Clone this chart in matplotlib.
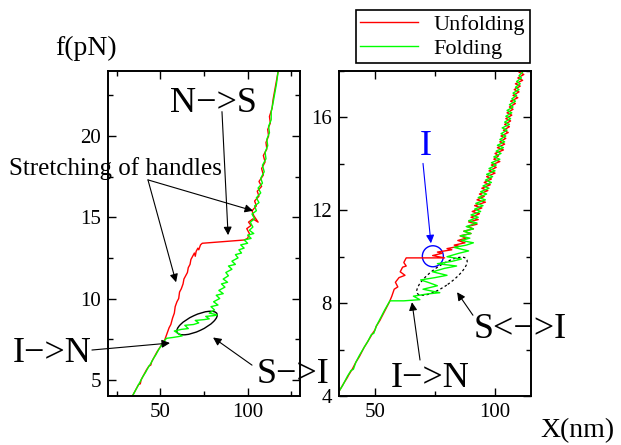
import matplotlib
matplotlib.use("Agg")
import matplotlib.pyplot as plt
from matplotlib.patches import Ellipse
from matplotlib.transforms import ScaledTranslation
from matplotlib.ticker import MultipleLocator

plt.rcParams['font.family'] = ['Liberation Serif', 'DejaVu Serif']

# ---- left panel traces (x in nm, f in pN) ----
unfold_left_x = [34.0, 36, 37.5, 38.5, 39, 40.5, 42, 43.5, 44.5, 45, 46.5, 48, 49.5, 51, 52.5,
                 54, 55, 56, 57, 58, 58.5, 59.5, 60.5, 61, 62, 63, 63.5, 64.5, 65.5,
                 66, 67, 67.5, 68.5, 69.5, 70, 70.5, 71.5, 72, 73, 74,
                 80, 86, 92, 98,
                 100, 101, 99.5, 102, 100.5, 103, 106, 103.5, 102.5, 105, 104, 106.5,
                 105.5, 108, 106.5, 109, 108, 110, 109, 111, 110.5, 112, 111.5, 113,
                 112.5, 114, 114.5, 115.5, 116.5, 117.5]
unfold_left_f = [4.0, 4.4, 4.7, 4.75, 5.0, 5.3, 5.6, 5.85, 5.9, 6.1, 6.4, 6.7, 6.95, 7.2, 7.45,
                 7.9, 8.2, 8.4, 8.8, 9.1, 9.5, 9.8, 10.0, 10.4, 10.6, 10.9, 11.2, 11.4, 11.6,
                 11.9, 12.1, 12.4, 12.6, 12.8, 12.6, 12.9, 13.1, 13.0, 13.3, 13.4,
                 13.45, 13.5, 13.55, 13.6,
                 13.7, 14.0, 14.3, 14.5, 14.7, 14.9, 14.7, 15.1, 15.4, 15.7, 16.0, 16.3,
                 16.6, 16.9, 17.2, 17.6, 18.0, 18.4, 18.8, 19.2, 19.6, 20.0, 20.4, 20.8,
                 21.2, 21.7, 22.2, 22.8, 23.4, 24.0]

fold_left_x = [34.0, 35.5, 37, 38.5, 40, 41.5, 43, 44.5, 46, 47.5, 49, 50.5, 52, 53.5,
               57, 60, 62.5,
               58, 62, 66, 64, 69, 72, 70, 75, 78, 76, 81, 82.5, 78,
               81, 79, 83, 80.5, 84, 82, 86, 83.5, 87, 85, 88.5, 86, 89, 87.5, 91, 89,
               93, 91, 94.5, 93, 96.5, 95, 98, 96, 100, 98, 102, 100, 103.5, 101, 103,
               101.5, 104, 102.5, 105, 104, 106.5, 105, 107.5, 106, 108.5, 107.5, 109.5,
               108.5, 110.5, 110, 111.5, 111, 112.5, 112, 113.5, 113.5, 114.5, 115.5,
               116.5, 117.5]
fold_left_f = [4.0, 4.3, 4.6, 4.9, 5.2, 5.45, 5.75, 6.0, 6.3, 6.55, 6.85, 7.1, 7.35, 7.55,
               7.6, 7.65, 7.7,
               8.0, 8.1, 8.15, 8.35, 8.4, 8.5, 8.65, 8.7, 8.75, 8.9, 8.95, 9.0, 9.1,
               9.3, 9.5, 9.6, 9.8, 10.0, 10.2, 10.3, 10.5, 10.7, 10.9, 11.0, 11.2, 11.4, 11.6, 11.8, 12.0,
               12.1, 12.3, 12.5, 12.7, 12.8, 13.0, 13.1, 13.3, 13.4, 13.6, 13.7, 13.9, 14.0, 14.2, 14.4,
               14.7, 14.9, 15.2, 15.4, 15.7, 15.9, 16.2, 16.5, 16.8, 17.1, 17.4, 17.8,
               18.2, 18.6, 19.0, 19.4, 19.8, 20.2, 20.6, 21.0, 21.5, 22.0, 22.6,
               23.2, 24.0]

# ---- right panel traces ----
unfold_right_x = [35, 37, 38.5, 39, 40.5, 42, 43.5, 44, 45.5, 47, 49, 50, 50.5, 52, 54, 56,
                  57, 58, 59.5, 58.5, 60, 62.5, 60.5, 61.5, 63, 62, 63,
                  70, 79,
                  74, 78, 76, 82, 80, 85, 83, 87.5, 84.5, 88, 85.5, 90, 87, 91, 88.5,
                  92.5, 89, 93, 90, 93.5, 90.5, 94.5, 91.5, 96, 92.5, 95.5, 93.5, 97,
                  94.5, 98, 95.5, 98.5, 96.5, 100, 97.5, 100.5, 98.5, 102, 99.5, 101.5,
                  100, 103.5, 101, 104, 102, 104.5, 102.5, 105.5, 103.5, 106, 104, 106.5,
                  104.5, 107, 105, 107.5, 106, 108.5, 106.5, 109.5, 107.5, 110, 108,
                  110.5, 108.5, 111.5, 109.5, 112, 110, 111.5]
unfold_right_f = [4.2, 4.55, 4.8, 4.9, 5.15, 5.45, 5.7, 5.8, 6.1, 6.35, 6.7, 6.85, 7.0, 7.25, 7.65, 8.05,
                  8.3, 8.6, 8.7, 8.9, 9.1, 9.2, 9.35, 9.55, 9.6, 9.75, 9.95,
                  9.95, 9.95,
                  10.05, 10.15, 10.2, 10.3, 10.35, 10.45, 10.5, 10.6, 10.7, 10.8, 10.9,
                  11.0, 11.1, 11.2, 11.3, 11.4, 11.5, 11.6, 11.7, 11.85, 11.95, 12.1,
                  12.2, 12.35, 12.45, 12.6, 12.7, 12.85, 12.95, 13.1, 13.2, 13.35, 13.45,
                  13.6, 13.7, 13.85, 13.95, 14.1, 14.2, 14.35, 14.45, 14.6, 14.7, 14.85,
                  14.95, 15.1, 15.2, 15.35, 15.45, 15.6, 15.7, 15.85, 15.95, 16.1, 16.2,
                  16.35, 16.45, 16.6, 16.7, 16.85, 16.95, 17.1, 17.2, 17.35, 17.45, 17.6,
                  17.7, 17.85, 17.95, 18.1]

fold_right_x = [35, 36.5, 38.5, 40, 41, 42, 43.5, 45.5, 47, 48.5, 49.5, 50.5, 52, 54, 56.2,
                62, 68.7,
                66, 72, 77, 70, 76, 72, 69, 75, 80, 74, 79, 84, 76, 82, 86, 80, 85, 89,
                83, 88, 91,
                86, 89.5, 85.5, 90, 87, 91, 88, 92.5, 89, 93, 90, 94, 91.5, 95, 92, 96,
                93, 96.5, 94, 97.5, 95, 98.5, 96, 99, 96.5, 100, 97.5, 100.5, 98.5,
                102, 99.5, 102.5, 100.5, 103.5, 101, 104, 102, 104.5, 102.5, 105, 103,
                106, 104, 106.5, 104.5, 107, 105, 107.5, 106, 108.5, 107, 109, 107.5,
                110, 108.5, 110.5, 109, 111, 110, 111.5, 110.5]
fold_right_f = [4.2, 4.45, 4.85, 5.1, 5.15, 5.45, 5.75, 6.1, 6.35, 6.65, 6.7, 7.0, 7.3, 7.7, 8.1,
                8.1, 8.15,
                8.3, 8.4, 8.45, 8.6, 8.75, 8.9, 9.0, 9.1, 9.2, 9.35, 9.5, 9.6, 9.7, 9.8, 9.9, 10.0, 10.15, 10.25,
                10.4, 10.5, 10.6,
                10.7, 10.8, 10.9, 11.0, 11.1, 11.2, 11.3, 11.45, 11.55, 11.7, 11.8, 11.95,
                12.05, 12.2, 12.3, 12.45, 12.55, 12.7, 12.8, 12.95, 13.05, 13.2, 13.3,
                13.45, 13.55, 13.7, 13.8, 13.95, 14.05, 14.2, 14.3, 14.45, 14.55, 14.7,
                14.8, 14.95, 15.05, 15.2, 15.3, 15.45, 15.55, 15.7, 15.8, 15.95, 16.05,
                16.2, 16.3, 16.45, 16.55, 16.7, 16.8, 16.95, 17.05, 17.2, 17.3, 17.45,
                17.55, 17.7, 17.8, 17.95, 18.1]

RED = '#ff0000'
GREEN = '#00ff00'
BIG = 26

fig = plt.figure(figsize=(6.21, 4.45), dpi=100)
axL = fig.add_axes([0.1739, 0.1101, 0.3092, 0.7303])
axR = fig.add_axes([0.5459, 0.1101, 0.3092, 0.7303])

for ax in (axL, axR):
    ax.tick_params(which='both', direction='in', top=True, right=True, labelsize=15, pad=5)
    ax.tick_params(which='major', length=6, width=1)
    ax.tick_params(which='minor', length=3.5, width=1)
    for s in ax.spines.values():
        s.set_linewidth(1.4)

axL.plot(unfold_left_x, unfold_left_f, color=RED, lw=1)
axL.plot(fold_left_x, fold_left_f, color=GREEN, lw=1)
axL.set_xlim(20, 130)
axL.set_ylim(4, 24)
axL.xaxis.set_major_locator(MultipleLocator(50))
axL.xaxis.set_minor_locator(MultipleLocator(25))
axL.yaxis.set_major_locator(MultipleLocator(5))
axL.yaxis.set_minor_locator(MultipleLocator(2.5))

l1, = axR.plot(unfold_right_x, unfold_right_f, color=RED, lw=1, label='Unfolding')
l2, = axR.plot(fold_right_x, fold_right_f, color=GREEN, lw=1, label='Folding')
axR.set_xlim(35, 115)
axR.set_ylim(4, 18)
axR.xaxis.set_major_locator(MultipleLocator(50))
axR.xaxis.set_minor_locator(MultipleLocator(25))
axR.yaxis.set_major_locator(MultipleLocator(4))
axR.yaxis.set_minor_locator(MultipleLocator(2))

leg = fig.legend(handles=[l1, l2], loc='upper left', bbox_to_anchor=(356 / 621, 1 - 10 / 445),
                 fontsize=16, frameon=True, fancybox=False, edgecolor='black',
                 framealpha=1, handlelength=2.6, handletextpad=0.7, borderpad=0.2,
                 labelspacing=0.15, borderaxespad=0)
leg.get_frame().set_linewidth(1.2)

fig.text(55 / 621, 1 - 55 / 445, 'f(pN)', fontsize=20, ha='left', va='baseline')
fig.text(540 / 621, 1 - 437 / 445, 'X(nm)', fontsize=20, ha='left', va='baseline')

arrow = dict(arrowstyle='-|>', color='black', lw=0.8, mutation_scale=12,
             shrinkA=0, shrinkB=0)

# left panel annotations
axL.text(80.2, 21.48, 'N−>S', fontsize=BIG, ha='center', va='baseline')
axL.annotate('', xy=(88.8, 13.9), xytext=(85.3, 21.5), arrowprops=arrow)
axL.text(-36.7, 17.6, 'Stretching of handles', fontsize=18, ha='left', va='baseline',
         clip_on=False)
axL.annotate('', xy=(59.0, 11.0), xytext=(42.9, 17.3), arrowprops=arrow)
axL.annotate('', xy=(103.1, 15.4), xytext=(42.9, 17.3), arrowprops=arrow)
axL.text(-12.1, 6.09, 'I−>N', fontsize=BIG, ha='center', va='baseline', clip_on=False)
axL.annotate('', xy=(55.5, 7.26), xytext=(10.8, 6.83), arrowprops=arrow,
             annotation_clip=False)
axL.text(126.0, 4.8, 'S−>I', fontsize=BIG, ha='center', va='baseline', clip_on=False,
         zorder=5)
axL.annotate('', xy=(80.2, 7.6), xytext=(102.5, 5.9), arrowprops=arrow)
axL.add_patch(Ellipse((0, 0), 0.44, 0.16, angle=25, fill=False, ec='black', lw=1,
                      transform=fig.dpi_scale_trans + ScaledTranslation(71.0, 8.49, axL.transData)))

# right panel annotations
axR.text(71.25, 14.37, 'I', fontsize=BIG, color='#0000ff', ha='center', va='baseline')
axR.annotate('', xy=(73.3, 10.58), xytext=(70.0, 14.02),
             arrowprops=dict(arrow, color='#0000ff'))
axR.add_patch(Ellipse((0, 0), 0.21, 0.21, fill=False, ec='#0000ff', lw=1,
                      transform=fig.dpi_scale_trans + ScaledTranslation(74.1, 10.02, axR.transData)))
axR.add_patch(Ellipse((0, 0), 0.60, 0.20, angle=35, fill=False, ec='black', lw=0.9,
                      ls=(0, (2, 2)),
                      transform=fig.dpi_scale_trans + ScaledTranslation(77.9, 9.16, axR.transData)))
axR.text(110.4, 6.49, 'S<−>I', fontsize=BIG, ha='center', va='baseline', clip_on=False)
axR.annotate('', xy=(84.2, 8.47), xytext=(90.8, 7.48), arrowprops=arrow)
axR.text(72.9, 4.39, 'I−>N', fontsize=BIG, ha='center', va='baseline')
axR.annotate('', xy=(65.4, 8.04), xytext=(68.75, 5.55), arrowprops=arrow)

fig.savefig('out.png', dpi=100)
